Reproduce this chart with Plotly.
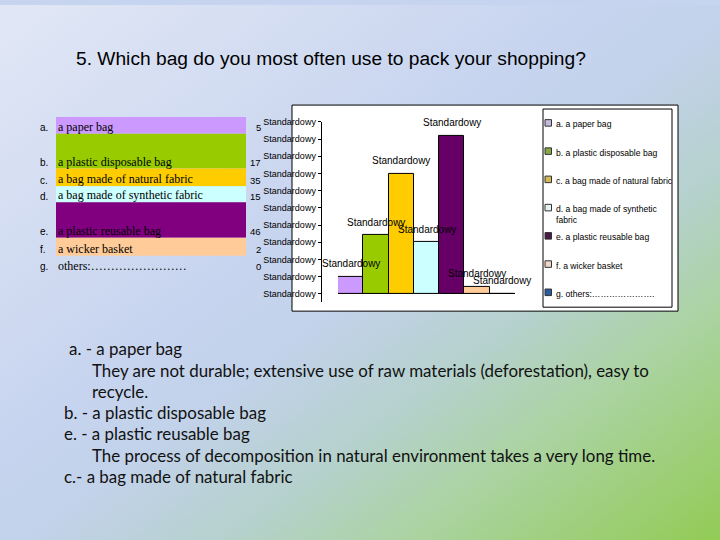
import base64
import plotly.graph_objects as go

W, H = 720, 540

# ---------------- data ----------------
categories = ["a", "b", "c", "d", "e", "f", "g"]
letters = ["a.", "b.", "c.", "d.", "e.", "f.", "g."]
answers = ["a paper bag", "a plastic disposable bag", "a bag made of natural fabric",
           "a bag made of synthetic fabric", "a plastic reusable bag", "a wicker basket",
           "others:……………………"]
counts = [5, 17, 35, 15, 46, 2, 0]
bar_labels = ["Standardowy"] * 7
legend_labels = ["a. a paper bag", "b. a plastic disposable bag", "c. a bag made of natural fabric",
                 "d. a bag made of synthetic<br>fabric", "e. a plastic reusable bag",
                 "f. a wicker basket", "g. others:…………………."]
y_tick_values = [0, 5, 10, 15, 20, 25, 30, 35, 40, 45, 50]
y_tick_labels = ["Standardowy"] * 11
title_text = "5. Which bag do you most often use to pack your shopping?"
notes = [
    ("a. - a paper bag", 67),
    ("They are not durable; extensive use of raw materials (deforestation), easy to", 90),
    ("recycle.", 90),
    ("b. - a plastic disposable bag", 62),
    ("e. - a plastic reusable bag", 62),
    ("The process of decomposition in natural environment takes a very long time.", 90),
    ("c.- a bag made of natural fabric", 62),
]

# ---------------- styles ----------------
bar_colors = ["#cc99ff", "#99cc00", "#ffcc00", "#ccffff", "#660066", "#ffcc99", "#1f4e99"]
legend_colors = ["#c4b8dc", "#86a848", "#d4b856", "#e6f2f2", "#4a1848", "#eed6c6", "#2a5aa0"]
table_colors = ["#cc99ff", "#99cc00", "#ffcc00", "#ccffff", "#800080", "#ffcc99", None]
row_edges = [113, 130, 165, 183, 199, 235, 253, 270]


def px(x):
    return x / W


def py(y):
    return 1 - y / H


svg = f"""<svg xmlns='http://www.w3.org/2000/svg' width='{W}' height='{H}'>
<defs><linearGradient id='g' x1='0' y1='0' x2='1' y2='1'>
<stop offset='0' stop-color='#e1e7f5'/>
<stop offset='0.42' stop-color='#c7d4ef'/>
<stop offset='0.52' stop-color='#c2d2ea'/>
<stop offset='0.66' stop-color='#b5d1cc'/>
<stop offset='0.78' stop-color='#abd3a2'/>
<stop offset='1' stop-color='#92cb55'/>
</linearGradient></defs>
<rect width='{W}' height='{H}' fill='url(#g)'/></svg>"""
bg_src = "data:image/svg+xml;base64," + base64.b64encode(svg.encode()).decode()

fig = go.Figure()

fig.add_trace(go.Bar(
    x=categories, y=counts,
    marker=dict(color=bar_colors, line=dict(color="black", width=1)),
    showlegend=False, hoverinfo="skip",
))

shapes = []
annotations = []

# chart frame (white) and border
shapes.append(dict(type="rect", xref="paper", yref="paper", x0=px(292), x1=px(678),
                   y0=py(309), y1=py(101), fillcolor="white", line=dict(width=0), layer="below"))
shapes.append(dict(type="rect", xref="paper", yref="paper", x0=px(292), x1=px(678),
                   y0=py(309), y1=py(101), line=dict(color="black", width=1), layer="above"))
# legend box
shapes.append(dict(type="rect", xref="paper", yref="paper", x0=px(543), x1=px(672),
                   y0=py(305), y1=py(105), fillcolor="white", line=dict(color="black", width=1),
                   layer="below"))

# legend entries
for i, (lab, col) in enumerate(zip(legend_labels, legend_colors)):
    yc = 119 + 28.5 * i
    shapes.append(dict(type="rect", xref="paper", yref="paper", x0=px(545), x1=px(551.5),
                       y0=py(yc + 3.3), y1=py(yc - 3.3), fillcolor=col,
                       line=dict(color="#333333", width=1), layer="above"))
    annotations.append(dict(xref="paper", yref="paper", x=px(554), y=py(yc - 5.5),
                            text=lab, showarrow=False, xanchor="left", yanchor="top", align="left",
                            font=dict(family="Liberation Sans", size=8.6, color="black")))

# left table
for i in range(7):
    top, bot = row_edges[i], row_edges[i + 1]
    if table_colors[i]:
        shapes.append(dict(type="rect", xref="paper", yref="paper", x0=px(56), x1=px(246),
                           y0=py(bot), y1=py(top), fillcolor=table_colors[i], line=dict(width=0),
                           layer="below"))
    yc = bot - 6
    annotations.append(dict(xref="paper", yref="paper", x=px(38), y=py(yc), text=letters[i],
                            showarrow=False, xanchor="left", yanchor="middle",
                            font=dict(family="Liberation Sans", size=10, color="black")))
    annotations.append(dict(xref="paper", yref="paper", x=px(56), y=py(yc - 1), text=answers[i],
                            showarrow=False, xanchor="left", yanchor="middle",
                            font=dict(family="Liberation Serif", size=12, color="black")))
    annotations.append(dict(xref="paper", yref="paper", x=px(263), y=py(yc), text=str(counts[i]),
                            showarrow=False, xanchor="right", yanchor="middle",
                            font=dict(family="Liberation Sans", size=9.5, color="black")))

# bar labels
for c, v, t in zip(categories, counts, bar_labels):
    annotations.append(dict(xref="x", yref="y", x=c, y=v, text=t, showarrow=False,
                            yanchor="middle", yshift=13,
                            font=dict(family="Liberation Sans", size=10, color="black")))

# title
annotations.append(dict(xref="paper", yref="paper", x=px(74), y=py(54), text=title_text,
                        showarrow=False, xanchor="left", yanchor="middle",
                        font=dict(family="Liberation Sans", size=19.2, color="black")))

# notes
for i, (t, x0) in enumerate(notes):
    annotations.append(dict(xref="paper", yref="paper", x=px(x0), y=py(347 + 21.5 * i), text=t,
                            showarrow=False, xanchor="left", yanchor="middle",
                            font=dict(family="Lato", size=16.9, color="#111111")))

fig.update_layout(
    width=W, height=H,
    margin=dict(l=0, r=0, t=0, b=0),
    paper_bgcolor="#c7d4ef",
    plot_bgcolor="rgba(0,0,0,0)",
    bargap=0,
    showlegend=False,
    images=[dict(source=bg_src, xref="paper", yref="paper", x=0, y=1, sizex=1, sizey=1,
                 sizing="stretch", xanchor="left", yanchor="top", layer="below")],
    shapes=shapes,
    annotations=annotations,
    xaxis=dict(domain=[px(338), px(515)], range=[-0.5, 6.5], showticklabels=False,
               showgrid=False, showline=False, zeroline=False, ticks="", fixedrange=True),
    yaxis=dict(domain=[py(299.5), py(118)], range=[-2.3, 50], anchor="free", position=px(320.7),
               tickvals=y_tick_values, ticktext=y_tick_labels, ticks="outside", ticklen=3,
               tickcolor="black", showline=True, linecolor="black", linewidth=1,
               showgrid=False, zeroline=True, zerolinecolor="black", zerolinewidth=1,
               fixedrange=True,
               tickfont=dict(family="Liberation Sans", size=9, color="black")),
)

fig.write_html(
    "out.html",
    config={"displayModeBar": False},
    post_script="document.body.style.margin='0';document.body.style.overflow='hidden';",
)
